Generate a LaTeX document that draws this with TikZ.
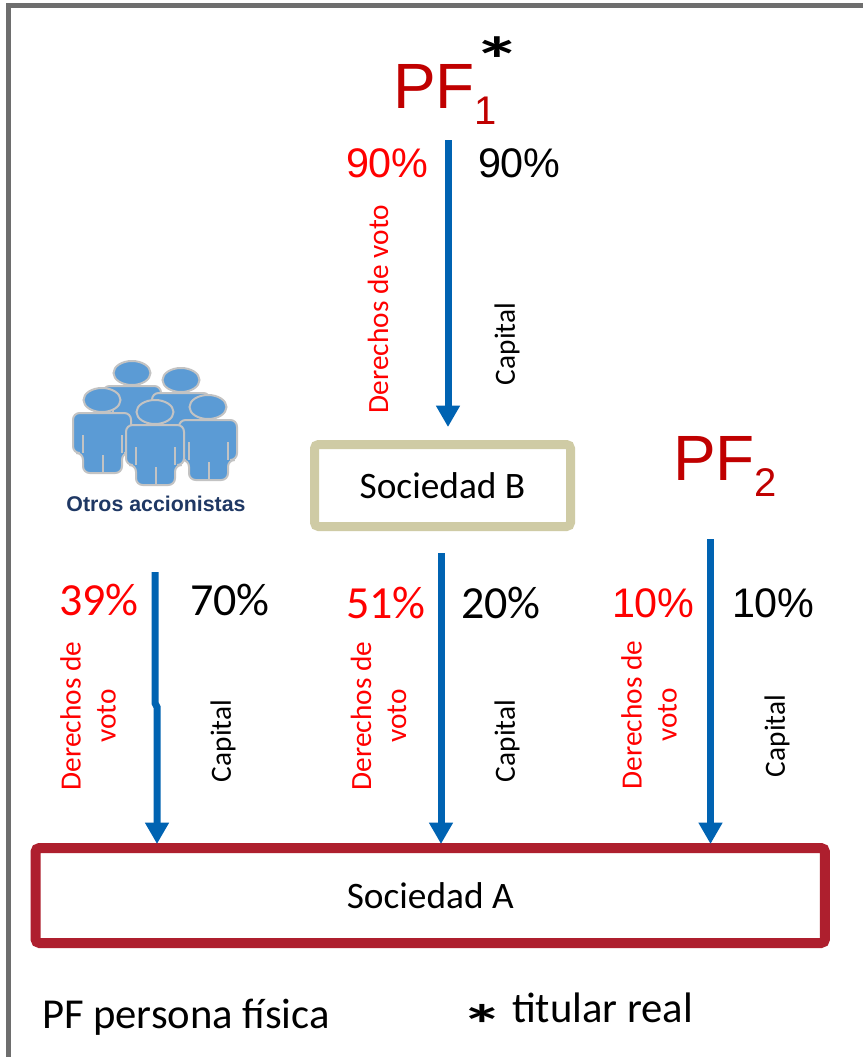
\documentclass[tikz,border=0pt]{standalone}
\usepackage{fontspec}
\setmainfont{Carlito}
\newfontfamily\arialf{Liberation Sans}
\usetikzlibrary{arrows.meta}
\definecolor{pfred}{HTML}{C00000}
\definecolor{flowblue}{HTML}{0063B2}
\definecolor{boxA}{HTML}{AE1F2E}
\definecolor{boxB}{HTML}{CFCBA5}
\definecolor{framegray}{HTML}{6E6E6E}
\definecolor{personfill}{HTML}{5B9BD5}
\definecolor{personline}{HTML}{C3C3C3}
\definecolor{navy}{HTML}{1F3864}
\newcommand\drawperson[2]{%
  \begin{scope}[shift={(#1,#2)}]
    \filldraw[fill=personfill, draw=personline, line width=1.5pt, rounded corners=5pt]
      (-29,53) -- (-29,13) -- (29,13) -- (29,53) -- (20,53) -- (20,73) -- (-19,73) -- (-19,53) -- cycle;
    \draw[personline, line width=1.5pt] (-19,35) -- (-19,53) (20,35) -- (20,53) (0.5,55) -- (0.5,73);
    \filldraw[fill=personfill, draw=personline, line width=1.5pt] (0,0) ellipse [x radius=18.5, y radius=12];
  \end{scope}}
\begin{document}
\begin{tikzpicture}[x=0.75pt,y=-0.75pt,
  txt/.style={inner sep=0pt, outer sep=0pt},
  pctA/.style={txt, anchor=base west, font=\arialf\fontsize{31}{31}\selectfont},
  pctC/.style={txt, anchor=base west, font=\fontsize{34.5}{34.5}\selectfont},
  lab/.style={txt, rotate=90, align=center, font=\fontsize{22}{26.25}\selectfont},
  pftext/.style={txt, anchor=base west, text=pfred, font=\arialf\fontsize{48}{48}\selectfont},
  flow/.style={draw=flowblue, line width=5.25pt, -{Triangle[width=17pt,length=16pt]}},
  sociedad/.style={inner sep=0pt, outer sep=0pt, rounded corners=3pt, font=\fontsize{28}{28}\selectfont}]
\useasboundingbox (0,0) rectangle (863,1057);
\fill[white] (0,0) rectangle (863,1057);
% frame
\draw[draw=framegray, line width=3.75pt] (8.8,1080) -- (8.8,5.8) -- (890,5.8);

% PF1
\node[pftext] (pf1) at (393,108) {PF\raisebox{-12pt}{\fontsize{30}{30}\selectfont 1}};
\node[txt, anchor=north, xscale=1.5, font=\bfseries\fontsize{48}{48}\selectfont] (ast1) at (497.5,37) {*};
\node[pctA, text=red] (v90) at (346,177) {90\%};
\node[pctA] (c90) at (478,177) {90\%};
\node[lab, text=red] (dv1) at (378,309) {Derechos de voto};
\node[lab] (cap1) at (507,344) {Capital};

% Sociedad B
\node[sociedad, draw=boxB, line width=6.75pt, minimum width=192pt, minimum height=61.5pt] (socB) at (442.5,485.5) {Sociedad B};

% PF2
\node[pftext] (pf2) at (673,480) {PF\raisebox{-12.5pt}{\fontsize{30}{30}\selectfont 2}};

% Otros accionistas icon
\drawperson{132}{373}
\drawperson{181}{380}
\drawperson{102}{400}
\drawperson{208}{407}
\drawperson{155}{412}
\node[txt, text=navy, font=\arialf\bfseries\fontsize{16}{16}\selectfont] (otros) at (156,503.5) {Otros accionistas};

% lower percentages
\node[pctC, text=red] (v39) at (59,615) {39\%};
\node[pctC] (c70) at (190,615) {70\%};
\node[pctC, text=red] (v51) at (346,618) {51\%};
\node[pctC] (c20) at (461,618) {20\%};
\node[pctA, text=red] (v10) at (612,617) {10\%};
\node[pctA] (c10) at (732,617) {10\%};

\node[lab, text=red] (dv2) at (88,716) {Derechos de\\voto};
\node[lab] (cap2) at (223,741) {Capital};
\node[lab, text=red] (dv3) at (378.5,716) {Derechos de\\voto};
\node[lab] (cap3) at (507,741) {Capital};
\node[lab, text=red] (dv4) at (649,715) {Derechos de\\voto};
\node[lab] (cap4) at (777,736) {Capital};

% Sociedad A
\node[sociedad, draw=boxA, line width=7.5pt, minimum width=592.1pt, minimum height=71.25pt] (socA) at (430.25,895.5) {Sociedad A};

% legend
\node[txt, anchor=base west, font=\fontsize{32}{32}\selectfont] (leg1) at (42,1028) {PF persona física};
\node[txt, anchor=north, xscale=1.5, font=\bfseries\fontsize{42}{42}\selectfont] (ast2) at (482,1004) {*};
\node[txt, anchor=base west, font=\fontsize{32}{32}\selectfont] (leg2) at (512,1022) {titular real};

% connectors
\coordinate (s1) at (448,140);
\draw[flow, shorten >=13.1pt] (s1) -- (s1 |- socB.north);
\coordinate (s2) at (155,572);
\coordinate (k2) at (155,703);
\coordinate (k3) at (157,707);
\draw[flow, shorten >=3pt] (s2) -- (k2) -- (k3) -- (k3 |- socA.north);
\coordinate (s3) at (441,553);
\draw[flow, shorten >=3pt] (s3) -- (s3 |- socA.north);
\coordinate (s4) at (710.5,539);
\draw[flow, shorten >=3pt] (s4) -- (s4 |- socA.north);
\end{tikzpicture}
\end{document}
